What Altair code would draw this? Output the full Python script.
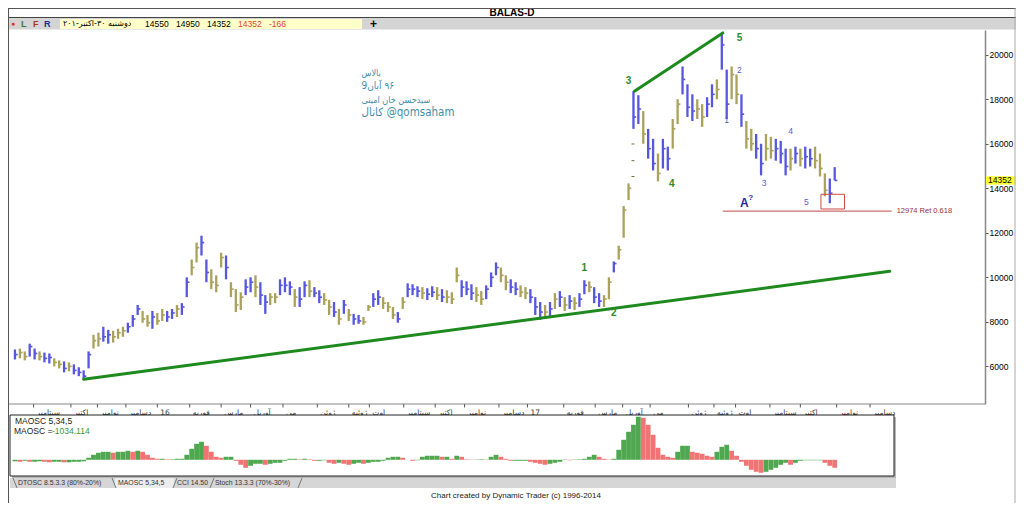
import altair as alt
import pandas as pd

W, H = 977, 495
FONT = "Liberation Sans"
FA = "DejaVu Sans"
FAC = "DejaVu Sans Condensed, DejaVu Sans"
BLUE = "#5656e0"
OLIVE = "#aaa25a"
GREENL = "#2d8a2d"
BLUEL = "#5a5acc"

# ---------------- data (bar index i ~ trading sessions) ----------------
hi = [6760, 6800, 6670, 7020, 6800, 6670, 6620, 6580, 6360, 6270,
      6220, 6180, 6090, 5960, 5820, 6670, 7420, 7510, 7780, 7640,
      7600, 7690, 7780, 7960, 8310, 8760, 8490, 8310, 8490, 8400,
      8580, 8490, 8580, 8760, 8840, 10000, 10800, 11560, 11870, 10800,
      10360, 10090, 11110, 10980, 9780, 9470, 9330, 9910, 10000, 10090,
      9780, 9200, 9290, 9290, 9910, 10000, 9820, 9470, 9560, 9820,
      9870, 9560, 9420, 9290, 8980, 8890, 8580, 8980, 8580, 8360,
      8310, 8220, 8760, 9290, 9420, 9110, 8890, 8670, 8440, 9110,
      9730, 9690, 9600, 9560, 9510, 9600, 9560, 9470, 9420, 9330,
      10440, 9870, 9820, 9690, 9560, 9380, 9640, 10220, 10670, 10440,
      10090, 9910, 9780, 9640, 9560, 9470, 9110, 8890, 8760, 8890,
      9290, 9380, 9110, 9200, 9110, 9290, 9870, 9820, 9560, 9290,
      9200, 10000, 10710, 11420, 13200, 14220, 18360, 18180, 17470, 16670,
      16220, 15560, 16220, 15870, 17110, 18000, 19470, 18670, 18220, 18000,
      17780, 18090, 18670, 18890, 20980, 19330, 19470, 19110, 18220, 17020,
      16670, 16440, 16000, 16440, 16310, 16220, 16130, 15780, 15780, 15870,
      15780, 15870, 15780, 15870, 15560, 14670, 14440, 14950]
lo = [6310, 6360, 6270, 6440, 6310, 6270, 6180, 6130, 6000, 5910,
      5730, 5780, 5640, 5560, 5420, 5910, 6800, 6890, 7110, 7020,
      7070, 7240, 7330, 7510, 7780, 8310, 7960, 7780, 7690, 7870,
      8040, 8000, 8130, 8220, 8310, 9110, 10090, 10670, 10980, 9780,
      9470, 9330, 10440, 9910, 9110, 8440, 8530, 9200, 9330, 9110,
      8760, 8360, 8760, 8840, 9200, 9330, 9200, 8670, 8670, 9110,
      9110, 9110, 8840, 8760, 8310, 8220, 7870, 8360, 8040, 7870,
      7910, 7870, 8490, 8670, 8760, 8580, 8440, 8130, 7960, 8580,
      9110, 9200, 9110, 9020, 8980, 9110, 8980, 8890, 8840, 8800,
      9780, 9110, 9200, 8980, 8890, 8760, 9020, 9560, 10090, 9780,
      9420, 9290, 9200, 9110, 9020, 8840, 8310, 8090, 8130, 8220,
      8580, 8670, 8490, 8580, 8530, 8670, 9240, 9330, 8840, 8670,
      8670, 9020, 10220, 10800, 11780, 13470, 16670, 16890, 16000, 15330,
      14800, 14310, 14890, 14800, 15780, 16890, 18220, 17200, 17020, 17110,
      16760, 17200, 17640, 18000, 19330, 17110, 18000, 17780, 16760, 15780,
      15690, 15330, 14580, 15240, 15330, 15240, 15110, 14580, 14800, 15110,
      14980, 14890, 14980, 14890, 14530, 13640, 13330, 14352]
cl = [6530, 6620, 6440, 6890, 6580, 6440, 6360, 6400, 6180, 6090,
      5910, 6000, 5820, 5730, 5560, 6530, 7160, 7240, 7330, 7420,
      7330, 7510, 7600, 7780, 8130, 8580, 8130, 7960, 8220, 8040,
      8310, 8220, 8400, 8580, 8670, 9780, 10440, 11330, 11560, 10220,
      9780, 9640, 10890, 10440, 9470, 8760, 9110, 9560, 9780, 9560,
      9200, 8890, 9110, 9110, 9640, 9640, 9560, 9110, 9020, 9640,
      9380, 9290, 9110, 8980, 8670, 8440, 8130, 8760, 8310, 8130,
      8040, 8000, 8670, 9020, 9110, 8840, 8670, 8310, 8130, 8890,
      9470, 9470, 9380, 9290, 9240, 9330, 9200, 9110, 9110, 9020,
      10090, 9560, 9470, 9290, 9200, 9020, 9470, 10000, 10440, 10090,
      9780, 9560, 9470, 9330, 9290, 9110, 8670, 8440, 8440, 8580,
      9020, 9110, 8760, 8930, 8840, 9020, 9640, 9560, 9110, 8930,
      9020, 9780, 10620, 11240, 13020, 14000, 17200, 17560, 16440, 15780,
      15110, 14670, 15780, 15330, 16670, 17780, 18890, 17640, 17470, 17560,
      17200, 17780, 18220, 18440, 20440, 17780, 19110, 18220, 17330, 16220,
      16000, 15780, 15110, 15780, 15690, 15780, 15560, 14980, 15330, 15560,
      15330, 15420, 15330, 15240, 14890, 13910, 13780, 14352]
tone = list("boobbobboo" "bobbbboobb" "ooobbboobo" "obbobboobb"
            "ooobooobbo" "bboobbbobb" "obboobobob" "boobbooobo"
            "bbbobboboo" "obbboobbbo" "obboobbbob" "obobobbobb"
            "oobooobbob" "bobboobbbo" "obbobboobo" "obboobbbob"
            "obbooobb")
maosc = [-195, -260, -130, -260, -260, -195, -260, -325, -260, -260,
         -325, -325, -260, -260, -195, 260, 650, 910, 1040, 1040,
         910, 1040, 1040, 1170, 1040, 1170, 1040, 650, 260, 130,
         130, 65, 65, 130, 130, 650, 1430, 2080, 2340, 1820,
         1040, 390, 260, 390, 390, -130, -650, -1040, -780, -520,
         -520, -650, -520, -390, -390, -130, 130, 130, 65, 130,
         65, -130, -130, -65, -390, -520, -390, -520, -650, -520,
         -390, -520, -390, -260, -260, -130, 260, 390, 390, 260,
         0, -130, -65, 390, 520, 520, 520, 390, 390, 130,
         520, 390, 65, 40, 40, 65, 40, 390, 650, 390,
         130, -130, -130, -130, -130, -260, -390, -520, -650, -520,
         -390, -260, 40, -65, 40, 65, 130, 390, 650, 390,
         130, 40, 130, 1300, 2600, 3640, 4550, 5590, 5460, 4550,
         3250, 1560, 650, 390, 260, 1040, 1820, 1820, 1040, 910,
         780, 520, 390, 1040, 1690, 1950, 1170, 520, -260, -780,
         -1300, -1560, -1690, -1560, -1300, -1040, -650, -390, -650, -390,
         -130, -65, -65, -65, -65, -390, -780, -1034]

month_pos = [3.8, 11.4, 16.8, 22.6, 29, 35.6, 42, 48, 54.6, 61.6, 68, 72.2,
             79.2, 85.6, 91.6, 98.6, 104.4, 111.8, 118.2, 123.8, 129.4,
             137.2, 142.4, 146.8, 153.8, 160, 167.4, 174.2]
month_lab = ["سپتامبر", "اکتبر", "نوامبر", "دسامبر", "16", "فوریه", "مارس",
             "آوریل", "می", "ژوئن", "ژوئیه", "اوت", "سپتامبر", "اکتبر",
             "نوامبر", "دسامبر", "17", "فوریه", "مارس", "آوریل", "می",
             "ژوئن", "ژوئیه", "اوت", "سپتامبر", "اکتبر", "نوامبر", "دسامبر"]
y_ticks = [6000, 8000, 10000, 12000, 14000, 16000, 18000, 20000]

wave_g_i = [116, 122, 125, 133.8, 147.6]
wave_g_p = [10440, 8400, 18800, 14180, 20760]
wave_g_t = ["1", "2", "3", "4", "5"]
wave_b_i = [145, 147.6, 152.6, 158, 161.2]
wave_b_p = [17070, 19330, 14220, 16580, 13380]
wave_b_t = ["1", "2", "3", "4", "5"]

trend_i1 = [14, 126.2]
trend_p1 = [5420, 18360]
trend_i2 = [178.2, 144.2]
trend_p2 = [10270, 20980]

gap_i = [125.6, 125.6, 125.6]
gap_p = [15990, 15240, 14530]

ret_level = 12974
ret_i = [144.2, 178.6]
box_i = [164.2, 169.0]
box_p = [13070, 13730]
last_close = 14352

note_lines = ["بالاس", "9آبان\u200e ۹۶", "سیدحسن خان امینی", "کانال @qomsaham"]
note_p = [19200, 18580, 17960, 17380]
note_size = [9, 10, 9, 11.5]
note_i = 70.6

# ---------------- frames ----------------
n = len(hi)
df = pd.DataFrame({"i": list(range(n)), "hi": hi, "lo": lo, "cl": cl,
                   "c": tone, "m": maosc})
df["ix"] = df["i"] + 0.55
df["u"] = ["g" if k == 0 or maosc[k] >= maosc[k - 1] else "r" for k in range(n)]

xs = alt.Scale(domain=[-0.4, 196.6], nice=False, zero=False)
ys = alt.Scale(domain=[4310, 21110], range=[396, 22], nice=False, zero=False)
ym = alt.Scale(domain=[-2108, 5822], range=[468, 407], nice=False, zero=False)

X = lambda f: alt.X(f, type="quantitative", scale=xs, axis=None)
Y = lambda f, ax=None: alt.Y(f, type="quantitative", scale=ys, axis=ax)

one = pd.DataFrame({"k": [0]})


def txt(t, x, y, size=8, color="black", font=FONT, weight="normal", align="left"):
    return alt.Chart(one).mark_text(
        text=t, fontSize=size, color=color, font=font, fontWeight=weight,
        align=align, baseline="middle").encode(x=alt.value(x), y=alt.value(y))


def box(x1, x2, y1, y2, fill, stroke=None, sw=1):
    kw = dict(fill=fill, strokeWidth=sw)
    if stroke:
        kw["stroke"] = stroke
    return alt.Chart(one).mark_rect(**kw).encode(
        x=alt.value(x1), x2=alt.value(x2), y=alt.value(y1), y2=alt.value(y2))


def seg(x1, y1, x2, y2, color, sw=1):
    return alt.Chart(one).mark_rule(color=color, strokeWidth=sw).encode(
        x=alt.value(x1), x2=alt.value(x2), y=alt.value(y1), y2=alt.value(y2))


layers = []
# header
layers.append(box(0, W + 31, 0, 9.5, "white"))
layers.append(txt("BALAS-D", 504, 5, size=10, weight="bold", align="center"))
layers.append(seg(0, 9.5, W + 31, 9.5, "#444", 1))
layers.append(box(0, W + 31, 10, 21.5, "#d4d4d4"))
layers.append(txt("●", 3, 15.5, size=7, color="#e03030"))
layers.append(txt("L", 13, 15.5, size=9, color="#3b7a3b", weight="bold"))
layers.append(txt("F", 25, 15.5, size=9, color="#b03030", weight="bold"))
layers.append(txt("R", 36, 15.5, size=9, color="#2a2a90", weight="bold"))
layers.append(box(52, 354, 11, 21, "#ffffcc"))
layers.append(txt("دوشنبه ۳۰-اکتبر-۲۰۱", 55, 16, size=8, font=FA))
for t, xx, cc in [("14550", 137, "black"), ("14950", 168, "black"),
                  ("14352", 199, "black"), ("14352", 230, "#e04040"),
                  ("-166", 261, "#e04040")]:
    layers.append(txt(t, xx, 16, size=8.5, color=cc))
layers.append(txt("+", 362, 15.5, size=12, weight="bold"))

# price bars
base = alt.Chart(df)
yaxis = alt.Axis(orient="right", values=y_ticks, format="d", tickSize=3,
                 labelFontSize=8.5, labelFont=FONT, labelColor="black",
                 domainColor="#888", domainWidth=1.5, tickColor="#555",
                 grid=False, title=None, labelPadding=1)
pcol = alt.Color("c:N", scale=alt.Scale(domain=["b", "o"], range=[BLUE, OLIVE]), legend=None)
layers.append(base.mark_rule(strokeWidth=2.3).encode(
    x=X("i"), y=Y("hi", yaxis), y2="lo:Q", color=pcol))
layers.append(base.mark_rule(strokeWidth=1.6).encode(
    x=X("i"), x2="ix:Q", y=Y("cl"), color=pcol))

gdf = pd.DataFrame({"i": gap_i, "p": gap_p})
gdf["i2"] = gdf["i"] + 0.6
layers.append(alt.Chart(gdf).mark_rule(color="#6a6a3a", strokeWidth=1).encode(
    x=X("i"), x2="i2:Q", y=Y("p")))

# trend lines
tdf = pd.DataFrame({"a": trend_i1, "pa": trend_p1, "b": trend_i2, "pb": trend_p2})
layers.append(alt.Chart(tdf).mark_rule(color="#1e8a1e", strokeWidth=3, strokeCap="round").encode(
    x=X("a"), x2="b:Q", y=Y("pa"), y2="pb:Q"))

# retracement
rdf = pd.DataFrame({"a": [ret_i[0]], "b": [ret_i[1]], "p": [ret_level],
                    "t": ["%d Ret 0.618" % ret_level]})
layers.append(alt.Chart(rdf).mark_rule(color="#c04848", strokeWidth=1).encode(
    x=X("a"), x2="b:Q", y=Y("p")))
layers.append(alt.Chart(rdf).mark_text(align="left", dx=5, fontSize=7.5, font=FONT,
                                       color="#9a3030", baseline="middle").encode(
    x=X("b"), y=Y("p"), text="t:N"))
bdf = pd.DataFrame({"a": [box_i[0]], "b": [box_i[1]], "p": [box_p[0]], "q": [box_p[1]]})
layers.append(alt.Chart(bdf).mark_rect(fillOpacity=0, stroke="#d04848", strokeWidth=1).encode(
    x=X("a"), x2="b:Q", y=Y("p"), y2="q:Q"))

# wave labels
wg = pd.DataFrame({"i": wave_g_i, "p": wave_g_p, "t": wave_g_t})
layers.append(alt.Chart(wg).mark_text(fontSize=10, fontWeight="bold", color=GREENL,
                                      font=FONT).encode(x=X("i"), y=Y("p"), text="t:N"))
wb = pd.DataFrame({"i": wave_b_i, "p": wave_b_p, "t": wave_b_t})
layers.append(alt.Chart(wb).mark_text(fontSize=8.5, color=BLUEL, font=FONT).encode(
    x=X("i"), y=Y("p"), text="t:N"))
adf = pd.DataFrame({"i": [148.6], "p": [13330], "t": ["A"]})
layers.append(alt.Chart(adf).mark_text(fontSize=12, fontWeight="bold", color="#2a2aa8",
                                       font=FONT).encode(x=X("i"), y=Y("p"), text="t:N"))
adf2 = pd.DataFrame({"i": [149.9], "p": [13560], "t": ["?"]})
layers.append(alt.Chart(adf2).mark_text(fontSize=8, fontWeight="bold", color="#2a2aa8",
                                        font=FONT).encode(x=X("i"), y=Y("p"), text="t:N"))

# note
ndf = pd.DataFrame({"i": [note_i] * 4, "p": note_p, "t": note_lines, "s": note_size})
layers.append(alt.Chart(ndf).mark_text(align="left", color="#3f8fa8", font=FAC,
                                       baseline="middle").encode(
    x=X("i"), y=Y("p"), text="t:N", size=alt.Size("s:Q", scale=None, legend=None)))

# last price marker
ldf = pd.DataFrame({"p": [last_close], "a": [last_close + 190], "b": [last_close - 190],
                    "t": [str(last_close)]})
layers.append(alt.Chart(ldf).mark_rect(fill="#ffff33").encode(
    x=alt.value(W + 1), x2=alt.value(W + 31), y=Y("a"), y2="b:Q"))
layers.append(alt.Chart(ldf).mark_text(align="left", fontSize=8.5, font=FONT,
                                       baseline="middle").encode(
    x=alt.value(W + 3), y=Y("p"), text="t:N"))

# x axis
layers.append(seg(0, 396, W, 396, "#888", 1))
mdf = pd.DataFrame({"i": month_pos, "t": month_lab})
layers.append(alt.Chart(mdf).mark_rule(color="#555", strokeWidth=1).encode(
    x=X("i"), y=alt.value(396), y2=alt.value(399.5)))
layers.append(alt.Chart(mdf).mark_text(align="left", dx=3, fontSize=7.5, font=FA,
                                       color="#333", baseline="middle").encode(
    x=X("i"), y=alt.value(405), text="t:N"))

# indicator panel
layers.append(box(4, 888, 409, 470, "#b8b8b8"))
layers.append(box(2, 886, 407, 468, "white", "#222", 1))
layers.append(base.mark_bar(size=4.8).encode(
    x=X("i"),
    y=alt.Y("m:Q", scale=ym, axis=None), y2=alt.datum(0),
    color=alt.Color("u:N", scale=alt.Scale(domain=["g", "r"], range=["#4fa84f", "#f07474"]),
                    legend=None)))
layers.append(txt("MAOSC 5,34,5", 7, 413, size=8.5, color="#222"))
layers.append(txt("MAOSC =", 6, 422.5, size=8.5, color="#222"))
layers.append(txt("-1034.114", 44, 422.5, size=8.5, color="#3a9a3a"))

# tabs
layers.append(box(2, 888, 470, 480, "#d6d6d6"))
layers.append(box(107, 166, 470, 480, "#ececec"))
for xx, d in [(7, 1), (106, 1), (167, -1), (204, -1), (292, -1)]:
    layers.append(seg(xx - 2 * d, 470, xx + 2 * d, 480, "#777", 1))
for t, xx in [("DTOSC 8.5.3.3 (80%-20%)", 10), ("MAOSC 5,34,5", 110),
              ("CCI 14.50", 169), ("Stoch 13.3.3 (70%-30%)", 207)]:
    layers.append(txt(t, xx, 475, size=6.9, color="#333"))

# footer and frame
layers.append(txt("Chart created by Dynamic Trader  (c) 1996-2014", 508, 488,
                  size=8, color="#222", align="center"))
layers.append(seg(0.5, 0, 0.5, H, "#555", 1))
layers.append(seg(0, 0.5, W + 31, 0.5, "#555", 1))
layers.append(seg(W + 30, 0, W + 30, H, "#aaa", 1))

chart = alt.layer(*layers).resolve_scale(y="independent", color="independent").properties(
    width=W, height=H,
    autosize=alt.AutoSizeParams(type="none"),
    padding={"left": 0, "top": 0, "right": 31, "bottom": 0},
    background="white",
).configure_view(strokeWidth=0)

chart.save("out.html", embed_options={"renderer": "svg", "actions": False})
